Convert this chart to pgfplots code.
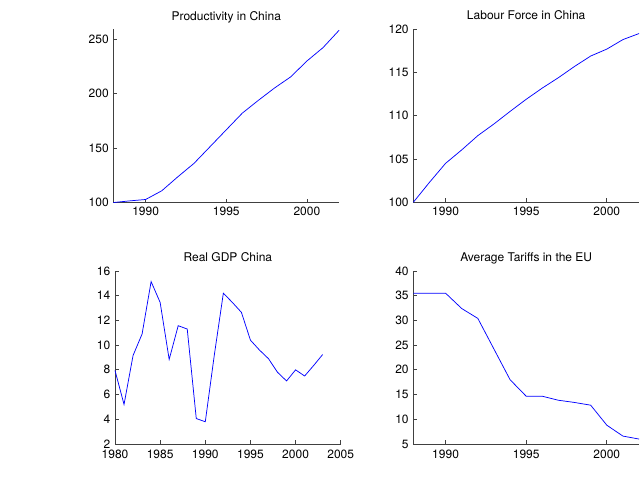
\documentclass[border=0pt]{standalone}
\usepackage{pgfplots}
\pgfplotsset{compat=1.18}
\usepackage{fontspec}
\setmainfont{TeX Gyre Heros}
\definecolor{mblue}{rgb}{0.25,0.25,1}
\pgfplotsset{
  mstyle/.style={
    anchor=south west,
    scale only axis,
    width=169.3pt,
    height=129.8pt,
    axis x line*=bottom,
    axis y line*=left,
    axis line style={-, black!75, line width=0.5pt},
    tick align=inside,
    major tick length=3pt,
    tick style={black!75, line width=0.5pt},
    /pgf/number format/assume math mode=true,
    /pgf/number format/1000 sep={},
    scaled ticks=false,
    ticklabel style={font=\fontsize{9}{10}\selectfont},
    title style={font=\fontsize{9}{10}\selectfont, anchor=base, yshift=1pt},
    every axis plot/.append style={mblue, line width=0.55pt, no markers},
    clip=false,
  }
}
\begin{document}
\begin{tikzpicture}
\path (0,0) rectangle (481.5pt,375pt);
% Top-left
\begin{axis}[mstyle, at={(85.05pt,223.1pt)},
  title={Productivity in China},
  xmin=1988, xmax=2002, ymin=100, ymax=259,
  xtick={1990,1995,2000}, ytick={100,150,200,250}]
\addplot coordinates {
(1988,100) (1989,101.5) (1990,102.8) (1991,110.8) (1992,123.7) (1993,136)
(1994,151.4) (1995,166.8) (1996,182.2) (1997,194) (1998,205.3) (1999,215.5)
(2000,230) (2001,242.3) (2002,258.3)};
\end{axis}
% Top-right
\begin{axis}[mstyle, at={(310pt,223.3pt)},
  title={Labour Force in China},
  xmin=1988, xmax=2002, ymin=100, ymax=120,
  xtick={1990,1995,2000}, ytick={100,105,110,115,120}]
\addplot coordinates {
(1988,100) (1989,102.3) (1990,104.5) (1991,106.05) (1992,107.7) (1993,109.05)
(1994,110.5) (1995,111.9) (1996,113.2) (1997,114.4) (1998,115.7) (1999,116.9)
(2000,117.7) (2001,118.8) (2002,119.5)};
\end{axis}
% Bottom-left
\begin{axis}[mstyle, at={(86.25pt,42pt)},
  title={Real GDP China},
  xmin=1980, xmax=2005, ymin=2, ymax=16,
  xticklabel style={yshift=-1pt},
  xtick={1980,1985,1990,1995,2000,2005}, ytick={2,4,6,8,10,12,14,16}]
\addplot coordinates {
(1980,7.95) (1981,5.2) (1982,9.16) (1983,10.9) (1984,15.14) (1985,13.45)
(1986,8.84) (1987,11.57) (1988,11.3) (1989,4.06) (1990,3.8) (1991,9.2)
(1992,14.2) (1993,13.45) (1994,12.65) (1995,10.4) (1996,9.6) (1997,8.9)
(1998,7.8) (1999,7.1) (2000,8.0) (2001,7.5) (2002,8.35) (2003,9.24)};
\end{axis}
% Bottom-right
\begin{axis}[mstyle, at={(310pt,42pt)},
  title={Average Tariffs in the EU},
  xmin=1988, xmax=2002, ymin=5, ymax=40,
  xticklabel style={yshift=-1pt},
  xtick={1990,1995,2000}, ytick={5,10,15,20,25,30,35,40}]
\addplot coordinates {
(1988,35.5) (1989,35.5) (1990,35.5) (1991,32.4) (1992,30.4) (1993,24.2)
(1994,18.0) (1995,14.66) (1996,14.66) (1997,13.85) (1998,13.4) (1999,12.85)
(2000,8.8) (2001,6.6) (2002,6.0)};
\end{axis}
\end{tikzpicture}
\end{document}
